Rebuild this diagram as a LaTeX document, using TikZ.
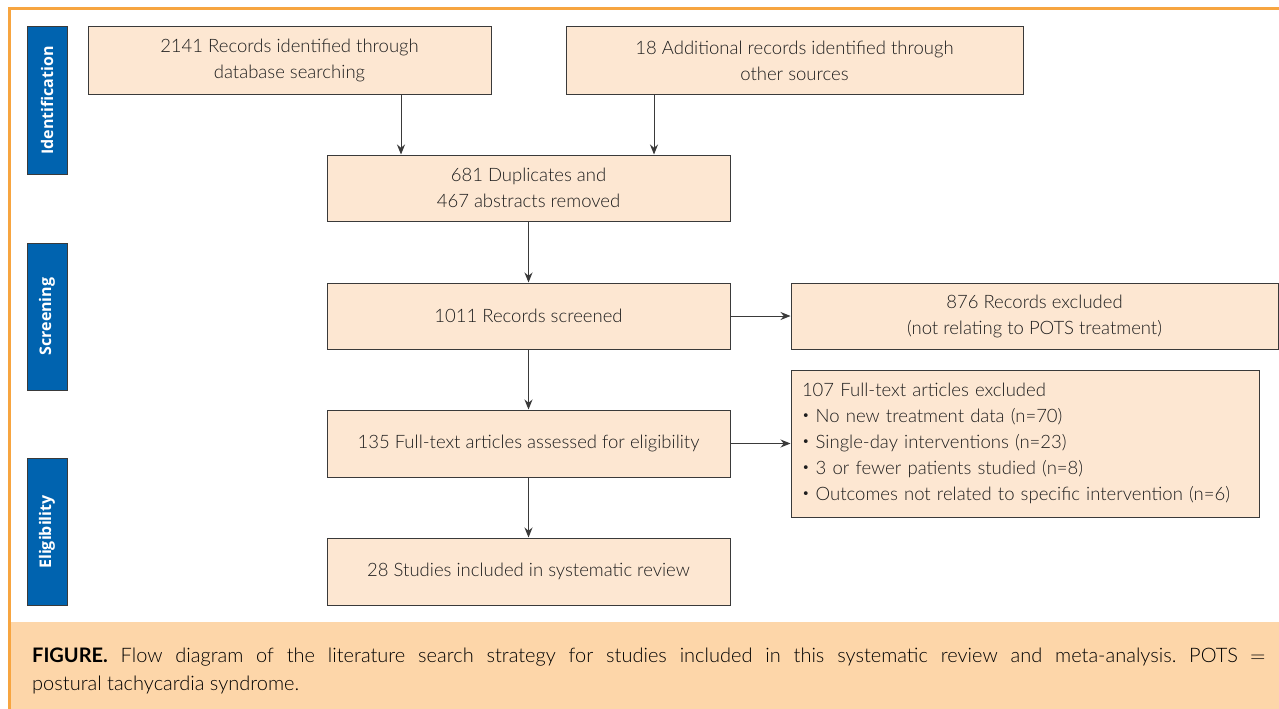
\documentclass[tikz,border=0pt]{standalone}
\usepackage{fontspec}
\setmainfont{Lato Light}[BoldFont=Lato Bold]
\newfontfamily\sidefont{Open Sans}
\usetikzlibrary{arrows.meta,calc}
\definecolor{frameor}{HTML}{F7A540}
\definecolor{capfill}{HTML}{FDD6A9}
\definecolor{boxfill}{HTML}{FDE7D2}
\definecolor{boxline}{HTML}{3A3A3A}
\definecolor{sideblue}{HTML}{0063AF}
\definecolor{txt}{HTML}{1E1E1E}
\newcommand{\mybul}{\raisebox{0.15em}{\scalebox{0.7}{\textbullet}}\ }
\frenchspacing
\begin{document}
\begin{tikzpicture}[x=1pt,y=-1pt,
  box/.style={draw=boxline,line width=1pt,fill=boxfill,minimum width=403pt,minimum height=67pt,align=center,inner sep=0pt,text=txt,font=\fontsize{18.5}{26}\selectfont},
  side/.style={draw=boxline,line width=1pt,fill=sideblue,minimum width=147pt,minimum height=40pt,inner sep=0pt,rotate=90,text=white,font=\sidefont\bfseries\fontsize{16}{20}\selectfont},
  arr/.style={-{Stealth[length=10pt,width=8pt]},line width=1pt,draw=boxline}]
\useasboundingbox (0,0) rectangle (1279,709);
\fill[white] (0,0) rectangle (1279,709);
% caption band
\fill[capfill] (10,622) rectangle (1279,709);
\draw[frameor,line width=3pt] (9,709) -- (9,9) -- (1279,9);
% side labels
\node[side] (sid) at (47,100.5) {Identification};
\node[side] (sscr) at (47,316.5) {Screening};
\node[side] (seli) at (47,532) {Eligibility};
% boxes
\node[box] (A) at (289.5,60.5) {2141 Records identified through\\database searching};
\node[box,minimum width=457pt] (B) at (794.5,60.5) {18 Additional records identified through\\other sources};
\node[box,minimum height=66pt] (C) at (528.5,188) {681 Duplicates and\\467 abstracts removed};
\node[box,minimum height=66pt] (D) at (528.5,316) {1011 Records screened};
\node[box,minimum width=487pt,minimum height=66pt] (E) at (1034.5,316) {876 Records excluded\\(not relating to POTS treatment)};
\node[box] (F) at (528.5,443.5) {135 Full-text articles assessed for eligibility};
\node[box,minimum width=468pt,minimum height=147pt,align=left,text width=446pt] (G) at (1025,443.5) {107 Full-text articles excluded\\
\mybul No new treatment data (n=70)\\
\mybul Single-day interventions (n=23)\\
\mybul 3 or fewer patients studied (n=8)\\
\mybul Outcomes not related to specific intervention (n=6)};
\node[box] (H) at (528.5,571.5) {28 Studies included in systematic review};
% arrows
\coordinate (xa) at (401,0);
\coordinate (xb) at (654,0);
\draw[arr] (A.south -| xa) -- (C.north -| xa);
\draw[arr] (B.south -| xb) -- (C.north -| xb);
\draw[arr] (C) -- (D);
\draw[arr] (D) -- (E);
\draw[arr] (D) -- (F);
\draw[arr] (F.east) -- (G.west |- F.east);
\draw[arr] (F) -- (H);
% caption
\node[anchor=north west,text width=1233pt,align=justify,inner sep=0pt,text=black,font=\fontsize{20}{28}\selectfont] (cap) at (32,648)
{\textbf{FIGURE.} Flow diagram of the literature search strategy for studies included in this systematic review and meta-analysis. POTS $=$\linebreak postural tachycardia syndrome.};
\end{tikzpicture}
\end{document}
